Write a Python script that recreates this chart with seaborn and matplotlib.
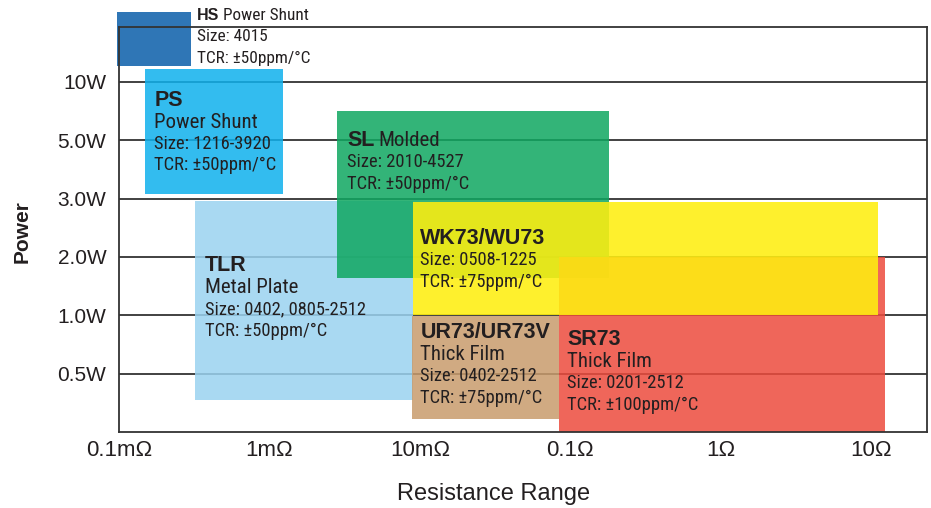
import matplotlib
matplotlib.use("Agg")
import matplotlib.pyplot as plt
from matplotlib import font_manager
import seaborn as sns

# ---------------- data ----------------
series = ["TLR", "HS", "PS", "SL", "SR73", "WK73", "UR73"]
r_min = [3.2e-4, 0.977e-4, 1.5e-4, 2.83e-3, 0.0845, 9.06e-3, 8.9e-3]   # ohm
r_max = [9.0e-3, 3.0e-4, 1.23e-3, 0.182, 12.4, 11.1, 0.0845]           # ohm
# power on the chart's level scale (1=0.5W, 2=1.0W, 3=2.0W, 4=3.0W, 5=5.0W, 6=10W)
p_min = [0.54, 6.27, 4.08, 2.64, 0.0, 2.01, 0.23]
p_max = [3.96, 7.20, 6.22, 5.50, 3.00, 3.94, 1.99]

titles = ["TLR", "HS", "PS", "SL", "SR73", "WK73/WU73", "UR73/UR73V"]
subtitles = ["Metal Plate", "Power Shunt", "Power Shunt", "Molded", "Thick Film", "", "Thick Film"]
sizes = ["Size: 0402, 0805-2512", "Size: 4015", "Size: 1216-3920", "Size: 2010-4527",
         "Size: 0201-2512", "Size: 0508-1225", "Size: 0402-2512"]
tcrs = ["TCR: ±50ppm/°C", "TCR: ±50ppm/°C", "TCR: ±50ppm/°C", "TCR: ±50ppm/°C",
        "TCR: ±100ppm/°C", "TCR: ±75ppm/°C", "TCR: ±75ppm/°C"]

power_ticks = [1, 2, 3, 4, 5, 6]
power_labels = ["0.5W", "1.0W", "2.0W", "3.0W", "5.0W", "10W"]
res_ticks = [1e-4, 1e-3, 1e-2, 1e-1, 1, 10]
res_labels = ["0.1mΩ", "1mΩ", "10mΩ", "0.1Ω", "1Ω", "10Ω"]

# ---------------- style ----------------
colors = {"TLR": "#9ad3f0", "HS": "#0a5eaa", "PS": "#0fb1ed", "SL": "#0fa760",
          "SR73": "#ed4b3d", "WK73": "#feee10", "UR73": "#c89b6c"}
alphas = {"TLR": 0.85, "HS": 0.85, "PS": 0.85, "SL": 0.85, "SR73": 0.85,
          "WK73": 0.88, "UR73": 0.85}
# text layout: (anchor corner, dx px, first line dy px, same-line title?)
layout = {"TLR": ("left", 10, 65, False), "HS": ("right", 6, 4, True),
          "PS": ("left", 9, 31, False), "SL": ("left", 10, 29, True),
          "SR73": ("left", 8, 83, False), "WK73": ("left", 7, 36, False),
          "UR73": ("left", 8, 17, False)}

sns.set_theme(style="white")
names = {f.name for f in font_manager.fontManager.ttflist}


def pick(cands, default="DejaVu Sans"):
    for c in cands:
        if c in names:
            return c
    return default


narrow = pick(["Roboto Condensed", "Archivo Narrow", "PT Sans Narrow", "Liberation Sans Narrow",
               "Barlow Semi Condensed", "Asap Condensed"])
regular = pick(["Liberation Sans", "Arimo", "Roboto"])
plt.rcParams["font.family"] = [regular, "DejaVu Sans"]

fig = plt.figure(figsize=(9.31, 5.08), dpi=100)
ax = fig.add_axes([119 / 931, 1 - 432 / 508, (927 - 119) / 931, (432 - 27) / 508])
ax.set_xscale("log")
ax.set_xlim(1.0077e-4, 23.5)
ax.set_ylim(0, 6.94)

for y in power_ticks:
    ax.axhline(y, color="#333333", lw=1.3, zorder=1)

text_color = "#231f20"
renderer = fig.canvas.get_renderer()
for i, name in enumerate(series):
    ax.bar(r_min[i], p_max[i] - p_min[i], width=r_max[i] - r_min[i], bottom=p_min[i],
           align="edge", color=colors[name], alpha=alphas[name], linewidth=0,
           zorder=2 + i, clip_on=False)

for i, name in enumerate(series):
    corner, dx, dy, inline = layout[name]
    x0 = r_max[i] if corner == "right" else r_min[i]
    small = name == "HS"
    title_fs = 11.5 if small else 15.5
    sub_fs = 12.4 if small else 15.0
    line_fs = 12.4 if small else 13.3
    step = 21 if small else 22
    t = ax.annotate(titles[i], xy=(x0, p_max[i]), xytext=(dx, -dy), textcoords="offset pixels",
                    ha="left", va="center", fontsize=title_fs, fontweight="bold",
                    color=text_color, zorder=20, annotation_clip=False)
    cur = dy
    if subtitles[i]:
        if inline:
            w = t.get_window_extent(renderer).width
            ax.annotate(subtitles[i], xy=(x0, p_max[i]), xytext=(dx + w + 4, -dy),
                        textcoords="offset pixels", ha="left", va="center",
                        fontsize=sub_fs, family=[narrow, "DejaVu Sans"],
                        color=text_color, zorder=20, annotation_clip=False)
        else:
            cur += step
            ax.annotate(subtitles[i], xy=(x0, p_max[i]), xytext=(dx, -cur),
                        textcoords="offset pixels", ha="left", va="center",
                        fontsize=sub_fs, family=[narrow, "DejaVu Sans"],
                        color=text_color, zorder=20, annotation_clip=False)
    for txt in (sizes[i], tcrs[i]):
        cur += step if cur == dy else 21.5
        ax.annotate(txt, xy=(x0, p_max[i]), xytext=(dx, -cur),
                    textcoords="offset pixels", ha="left", va="center",
                    fontsize=line_fs, family=[narrow, "DejaVu Sans"],
                    color=text_color, zorder=20, annotation_clip=False)

ax.set_yticks(power_ticks)
ax.set_yticklabels(power_labels, fontsize=15, color="#231f20")
ax.set_xticks(res_ticks)
ax.set_xticklabels(res_labels, fontsize=16, color="#231f20")
ax.xaxis.set_minor_locator(matplotlib.ticker.NullLocator())
ax.tick_params(axis="both", length=0)
ax.tick_params(axis="y", pad=9)
ax.tick_params(axis="x", pad=6)

for s in ax.spines.values():
    s.set_color("#333333")
    s.set_linewidth(1.3)
    s.set_zorder(15)

ax.set_xlabel("Resistance Range", fontsize=17, color="#231f20")
ax.xaxis.label.set_va("center")
ax.xaxis.set_label_coords((494 - 119) / 808, (432 - 494) / 405)
ax.set_ylabel("Power", fontsize=15, fontweight="bold", color="#231f20")
ax.yaxis.label.set_va("center")
ax.yaxis.set_label_coords((22 - 119) / 808, (432 - 232) / 405)

fig.savefig("out.png", dpi=100)
